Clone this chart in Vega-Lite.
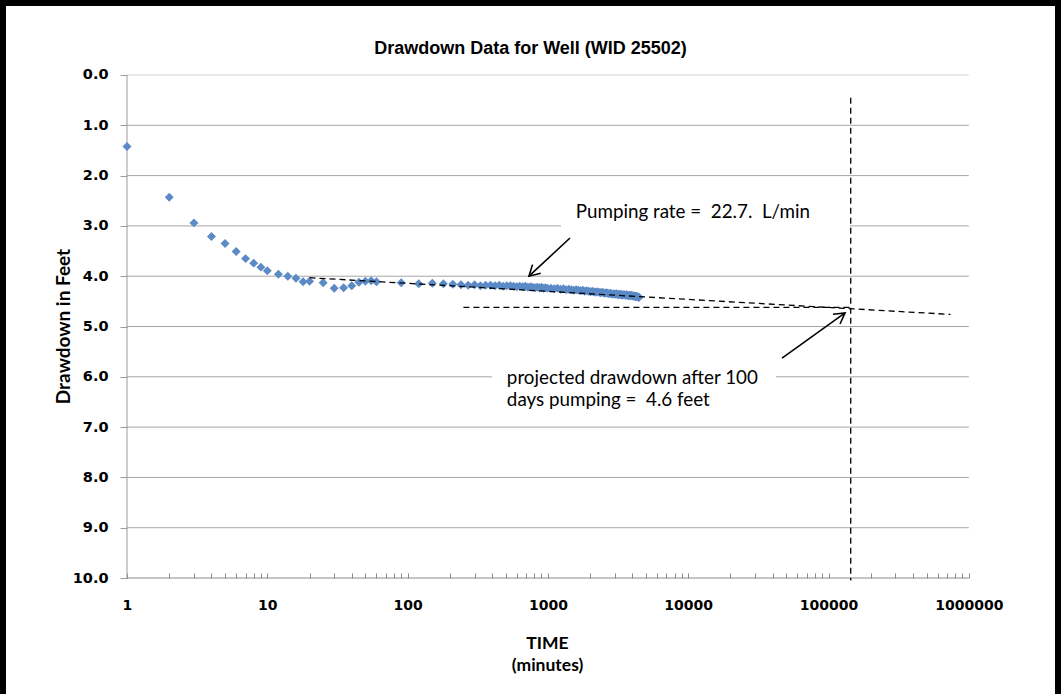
{
  "$schema": "https://vega.github.io/schema/vega-lite/v6.json",
  "width": 1061,
  "height": 710,
  "autosize": "none",
  "padding": 0,
  "background": "white",
  "title": {"text": "Drawdown Data for Well (WID 25502)", "font": "Liberation Sans", "fontSize": 18, "fontWeight": "bold", "color": "black", "offset": -58, "anchor": "middle"},
  "config": {"view": {"stroke": "black", "strokeWidth": 12}},
  "datasets": {
    "grid": [{"g": 0}, {"g": 1}, {"g": 2}, {"g": 3}, {"g": 4}, {"g": 5}, {"g": 6}, {"g": 7}, {"g": 8}, {"g": 9}],
    "boxes": [
      {"t1": 1239, "t2": 142300, "d1": 2.39, "d2": 3.28},
      {"t1": 400, "t2": 42260, "d1": 5.77, "d2": 6.70}
    ],
    "points": [
      {"t": 1, "d": 1.42}, {"t": 2, "d": 2.43}, {"t": 3, "d": 2.94}, {"t": 4, "d": 3.21}, {"t": 5, "d": 3.35},
      {"t": 6, "d": 3.51}, {"t": 7, "d": 3.65}, {"t": 8, "d": 3.74}, {"t": 9, "d": 3.82}, {"t": 10, "d": 3.89},
      {"t": 12, "d": 3.96}, {"t": 14, "d": 4.00}, {"t": 16, "d": 4.04}, {"t": 18, "d": 4.11}, {"t": 20, "d": 4.10},
      {"t": 25, "d": 4.13}, {"t": 30, "d": 4.24}, {"t": 35, "d": 4.23}, {"t": 40, "d": 4.19}, {"t": 45, "d": 4.12},
      {"t": 50, "d": 4.10}, {"t": 55, "d": 4.09}, {"t": 60, "d": 4.11}, {"t": 90, "d": 4.13}, {"t": 120, "d": 4.15},
      {"t": 150, "d": 4.14}, {"t": 180, "d": 4.15}, {"t": 210, "d": 4.16}, {"t": 240, "d": 4.17},
      {"t": 270, "d": 4.18}, {"t": 300, "d": 4.17}, {"t": 330, "d": 4.19}, {"t": 360, "d": 4.18}, {"t": 390, "d": 4.18},
      {"t": 420, "d": 4.19}, {"t": 450, "d": 4.18}, {"t": 480, "d": 4.20}, {"t": 510, "d": 4.19}, {"t": 540, "d": 4.19},
      {"t": 570, "d": 4.20}, {"t": 600, "d": 4.21}, {"t": 630, "d": 4.20}, {"t": 660, "d": 4.21}, {"t": 690, "d": 4.20},
      {"t": 720, "d": 4.22}, {"t": 750, "d": 4.21}, {"t": 780, "d": 4.22}, {"t": 810, "d": 4.23}, {"t": 840, "d": 4.22},
      {"t": 870, "d": 4.23}, {"t": 900, "d": 4.22}, {"t": 930, "d": 4.24}, {"t": 960, "d": 4.23}, {"t": 990, "d": 4.24},
      {"t": 1050, "d": 4.24}, {"t": 1110, "d": 4.25}, {"t": 1170, "d": 4.24}, {"t": 1230, "d": 4.26}, {"t": 1290, "d": 4.25},
      {"t": 1350, "d": 4.27}, {"t": 1410, "d": 4.26}, {"t": 1470, "d": 4.27}, {"t": 1530, "d": 4.28}, {"t": 1590, "d": 4.27},
      {"t": 1650, "d": 4.28}, {"t": 1710, "d": 4.29}, {"t": 1770, "d": 4.28}, {"t": 1830, "d": 4.30}, {"t": 1890, "d": 4.29},
      {"t": 1950, "d": 4.30}, {"t": 2010, "d": 4.31}, {"t": 2070, "d": 4.30}, {"t": 2130, "d": 4.31}, {"t": 2190, "d": 4.32},
      {"t": 2250, "d": 4.31}, {"t": 2310, "d": 4.32}, {"t": 2370, "d": 4.33}, {"t": 2430, "d": 4.32}, {"t": 2490, "d": 4.33},
      {"t": 2550, "d": 4.34}, {"t": 2610, "d": 4.33}, {"t": 2670, "d": 4.34}, {"t": 2730, "d": 4.35}, {"t": 2790, "d": 4.34},
      {"t": 2850, "d": 4.35}, {"t": 2910, "d": 4.36}, {"t": 2970, "d": 4.35}, {"t": 3030, "d": 4.36}, {"t": 3090, "d": 4.35},
      {"t": 3150, "d": 4.37}, {"t": 3210, "d": 4.36}, {"t": 3270, "d": 4.37}, {"t": 3330, "d": 4.36}, {"t": 3390, "d": 4.38},
      {"t": 3450, "d": 4.37}, {"t": 3510, "d": 4.37}, {"t": 3570, "d": 4.38}, {"t": 3630, "d": 4.37}, {"t": 3690, "d": 4.38},
      {"t": 3750, "d": 4.39}, {"t": 3810, "d": 4.38}, {"t": 3870, "d": 4.39}, {"t": 3930, "d": 4.38}, {"t": 3990, "d": 4.39},
      {"t": 4050, "d": 4.40}, {"t": 4110, "d": 4.39}, {"t": 4170, "d": 4.40}, {"t": 4230, "d": 4.41}, {"t": 4290, "d": 4.40},
      {"t": 4350, "d": 4.41}, {"t": 4410, "d": 4.42}, {"t": 4470, "d": 4.42}
    ],
    "dashed": [
      {"id": "trend", "o": 0, "t": 20, "d": 4.03},
      {"id": "trend", "o": 1, "t": 740000, "d": 4.76},
      {"id": "level", "o": 0, "t": 250, "d": 4.62},
      {"id": "level", "o": 1, "t": 144000, "d": 4.62},
      {"id": "vert", "o": 0, "t": 144000, "d": 0.45},
      {"id": "vert", "o": 1, "t": 144000, "d": 10.05}
    ],
    "arrows": [
      {"id": "a1", "o": 0, "t": 1437, "d": 3.24},
      {"id": "a1", "o": 1, "t": 733, "d": 4.00},
      {"id": "a1h", "o": 0, "t": 776.6, "d": 3.77},
      {"id": "a1h", "o": 1, "t": 733, "d": 4.00},
      {"id": "a1h", "o": 2, "t": 889, "d": 3.94},
      {"id": "a2", "o": 0, "t": 46650, "d": 5.63},
      {"id": "a2", "o": 1, "t": 131200, "d": 4.73},
      {"id": "a2h", "o": 0, "t": 107700, "d": 4.755},
      {"id": "a2h", "o": 1, "t": 131200, "d": 4.73},
      {"id": "a2h", "o": 2, "t": 120800, "d": 4.95}
    ],
    "notes": [
      {"t": 1580, "d": 2.72, "label": "Pumping rate = \u00a022.7. \u00a0L/min"},
      {"t": 510, "d": 6.02, "label": "projected drawdown after 100"},
      {"t": 510, "d": 6.46, "label": "days pumping = \u00a04.6 feet"}
    ]
  },
  "layer": [
    {
      "data": {"name": "grid"},
      "mark": {"type": "rule", "strokeWidth": 1},
      "encoding": {
        "x": {"datum": 1, "type": "quantitative", "scale": {"type": "log", "domain": [0.1244, 4541000], "nice": false}},
        "x2": {"datum": 1000000},
        "y": {"field": "g", "type": "quantitative", "scale": {"domain": [-1.491, 12.624], "reverse": true, "nice": false, "zero": false}},
        "color": {"condition": {"test": "datum.g == 0", "value": "#d4d4d4"}, "value": "#a6a6a6"}
      }
    },
    {
      "data": {"name": "boxes"},
      "mark": {"type": "rect", "fill": "white"},
      "encoding": {
        "x": {"field": "t1", "type": "quantitative", "scale": {"type": "log", "domain": [0.1244, 4541000], "nice": false}},
        "x2": {"field": "t2"},
        "y": {"field": "d1", "type": "quantitative", "scale": {"domain": [-1.491, 12.624], "reverse": true, "nice": false, "zero": false}},
        "y2": {"field": "d2"}
      }
    },
    {
      "data": {"values": [{"axis": "y"}]},
      "mark": {"type": "rule", "color": "#9a9a9a", "strokeWidth": 1},
      "encoding": {
        "x": {"datum": 1, "type": "quantitative", "scale": {"type": "log", "domain": [0.1244, 4541000], "nice": false}},
        "y": {"datum": 0, "type": "quantitative", "scale": {"domain": [-1.491, 12.624], "reverse": true, "nice": false, "zero": false}},
        "y2": {"datum": 10}
      }
    },
    {
      "data": {"values": [{"axis": "x"}]},
      "mark": {"type": "rule", "color": "#8a8a8a", "strokeWidth": 1},
      "encoding": {
        "x": {"datum": 1, "type": "quantitative", "scale": {"type": "log", "domain": [0.1244, 4541000], "nice": false}},
        "x2": {"datum": 1000000},
        "y": {"datum": 10, "type": "quantitative", "scale": {"domain": [-1.491, 12.624], "reverse": true, "nice": false, "zero": false}}
      }
    },
    {
      "data": {"name": "points"},
      "mark": {"type": "point", "shape": "diamond", "filled": true, "size": 80, "color": "#5B8AC6", "opacity": 1},
      "encoding": {
        "x": {"field": "t", "type": "quantitative", "scale": {"type": "log", "domain": [0.1244, 4541000], "nice": false},
          "axis": {"offset": -132, "domain": false, "grid": false,
            "values": [1,2,3,4,5,6,7,8,9,10,20,30,40,50,60,70,80,90,100,200,300,400,500,600,700,800,900,1000,2000,3000,4000,5000,6000,7000,8000,9000,10000,20000,30000,40000,50000,60000,70000,80000,90000,100000,200000,300000,400000,500000,600000,700000,800000,900000,1000000],
            "format": "d",
            "labelExpr": "(datum.value == 1 || datum.value == 10 || datum.value == 100 || datum.value == 1000 || datum.value == 10000 || datum.value == 100000 || datum.value == 1000000) ? datum.label : ''",
            "labelOverlap": false, "labelFlush": false,
            "tickSize": -5, "tickColor": "#8a8a8a", "labelPadding": 25,
            "labelFont": "DejaVu Sans", "labelFontSize": 14, "labelFontWeight": "bold", "labelColor": "black",
            "title": ["TIME", "(minutes)"], "titleFont": "Lato", "titleFontSize": 17.5, "titleFontWeight": "bold", "titleColor": "black",
            "titleX": 547, "titleY": 56, "titleBaseline": "top", "titleAlign": "center", "titleLineHeight": 22}},
        "y": {"field": "d", "type": "quantitative", "scale": {"domain": [-1.491, 12.624], "reverse": true, "nice": false, "zero": false},
          "axis": {"offset": -127, "domain": false, "grid": false,
            "values": [0,1,2,3,4,5,6,7,8,9,10], "format": ".1f",
            "tickSize": 7, "tickColor": "#9a9a9a", "labelPadding": 12,
            "labelFont": "DejaVu Sans", "labelFontSize": 14.5, "labelFontWeight": "bold", "labelColor": "black",
            "title": "Drawdown in Feet", "titleFont": "Lato", "titleFontSize": 19, "titleFontWeight": "bold", "titleColor": "black",
            "titleX": -64, "titleY": 326, "titleBaseline": "middle", "titleAngle": -90, "titleAlign": "center"}}
      }
    },
    {
      "data": {"name": "dashed"},
      "mark": {"type": "line", "color": "black", "strokeWidth": 1.3, "strokeDash": [6, 4]},
      "encoding": {
        "x": {"field": "t", "type": "quantitative", "scale": {"type": "log", "domain": [0.1244, 4541000], "nice": false}},
        "y": {"field": "d", "type": "quantitative", "scale": {"domain": [-1.491, 12.624], "reverse": true, "nice": false, "zero": false}},
        "detail": {"field": "id"},
        "order": {"field": "o"}
      }
    },
    {
      "data": {"name": "arrows"},
      "mark": {"type": "line", "color": "black", "strokeWidth": 1.6},
      "encoding": {
        "x": {"field": "t", "type": "quantitative", "scale": {"type": "log", "domain": [0.1244, 4541000], "nice": false}},
        "y": {"field": "d", "type": "quantitative", "scale": {"domain": [-1.491, 12.624], "reverse": true, "nice": false, "zero": false}},
        "detail": {"field": "id"},
        "order": {"field": "o"}
      }
    },
    {
      "data": {"name": "notes"},
      "mark": {"type": "text", "align": "left", "baseline": "middle", "font": "Lato", "fontSize": 18.8, "color": "black"},
      "encoding": {
        "x": {"field": "t", "type": "quantitative", "scale": {"type": "log", "domain": [0.1244, 4541000], "nice": false}},
        "y": {"field": "d", "type": "quantitative", "scale": {"domain": [-1.491, 12.624], "reverse": true, "nice": false, "zero": false}},
        "text": {"field": "label"}
      }
    }
  ]
}
